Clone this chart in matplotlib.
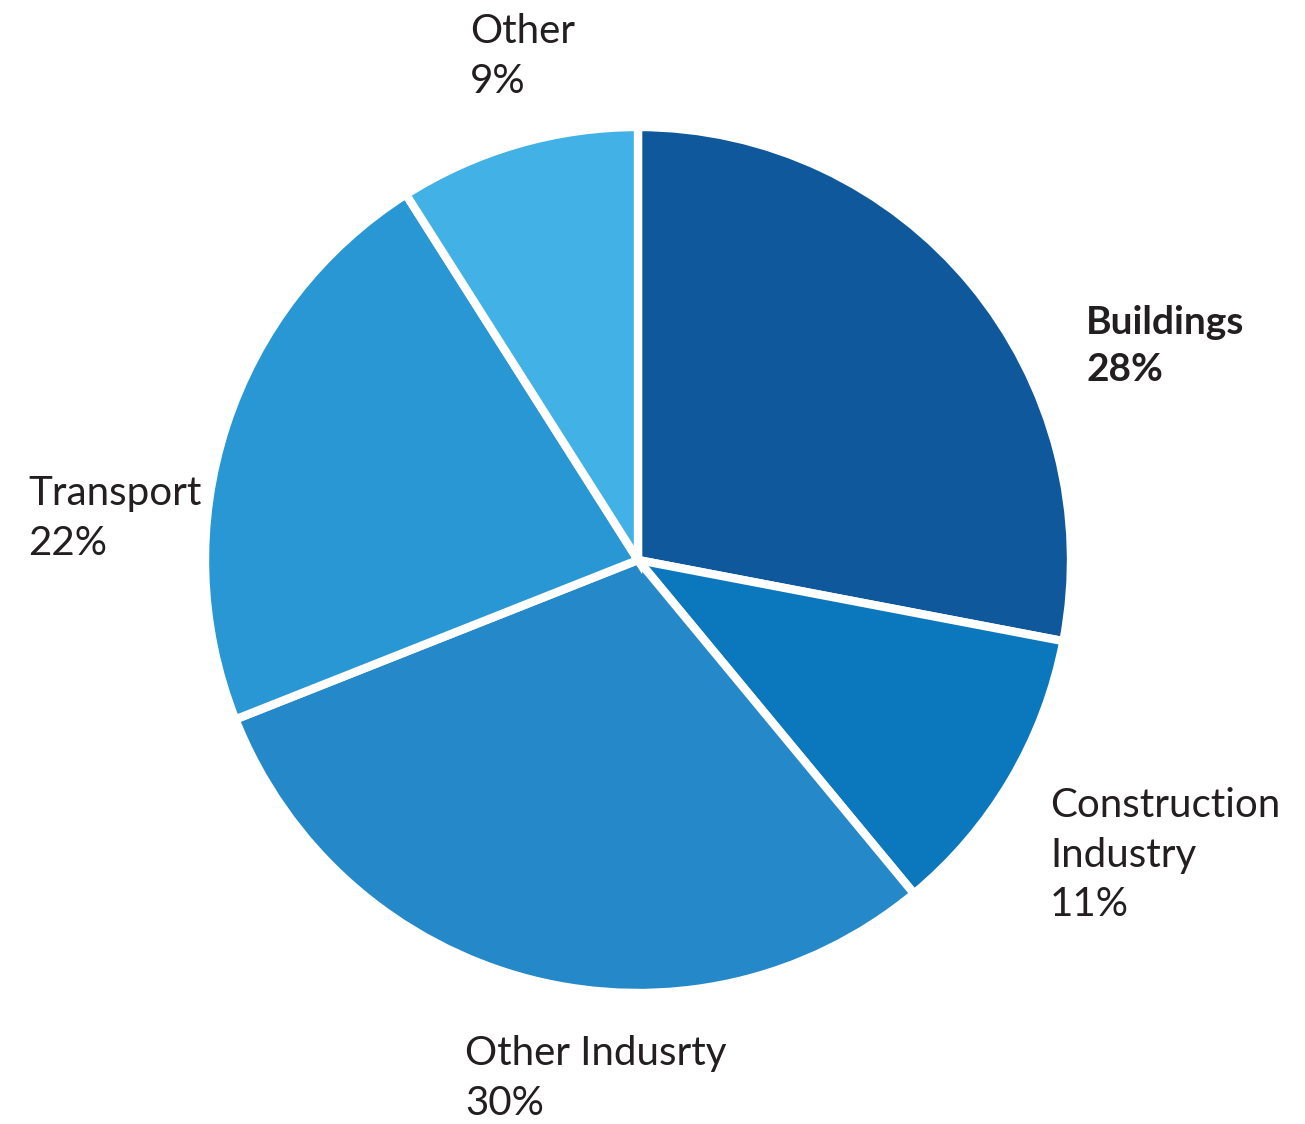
import matplotlib
matplotlib.use("Agg")
import matplotlib.pyplot as plt

categories = ["Buildings", "Construction\nIndustry", "Other Indusrty", "Transport", "Other"]
values = [28, 11, 30, 22, 9]
colors = ["#0F589C", "#0B77BC", "#2588C9", "#2897D4", "#42B1E5"]

W, H = 1305, 1124
fig = plt.figure(figsize=(W / 100, H / 100), dpi=100)
ax = fig.add_axes([0, 0, 1, 1])

cx, cy, r = 638, 560, 433
# y axis inverted -> counterclock=True draws clockwise visually; startangle -90 is top
ax.pie(values, colors=colors, startangle=-90, counterclock=True, center=(cx, cy), radius=r,
       wedgeprops=dict(edgecolor="white", linewidth=6), frame=True)
ax.set_xlim(0, W)
ax.set_ylim(H, 0)
ax.set_aspect("equal")
ax.axis("off")

label_pos = [(1086, 305, "bold"), (1050, 787, "normal"), (465, 1035, "normal"),
             (28, 475, "normal"), (470, 13, "normal")]
for cat, v, (x, y, w) in zip(categories, values, label_pos):
    txt = f"{cat}\n{v}%"
    ax.text(x, y, txt, ha="left", va="top", fontsize=29 if w == "normal" else 28,
            fontweight=w, color="#231F20", family="Lato", linespacing=1.42)

fig.savefig("out.png", dpi=100)
